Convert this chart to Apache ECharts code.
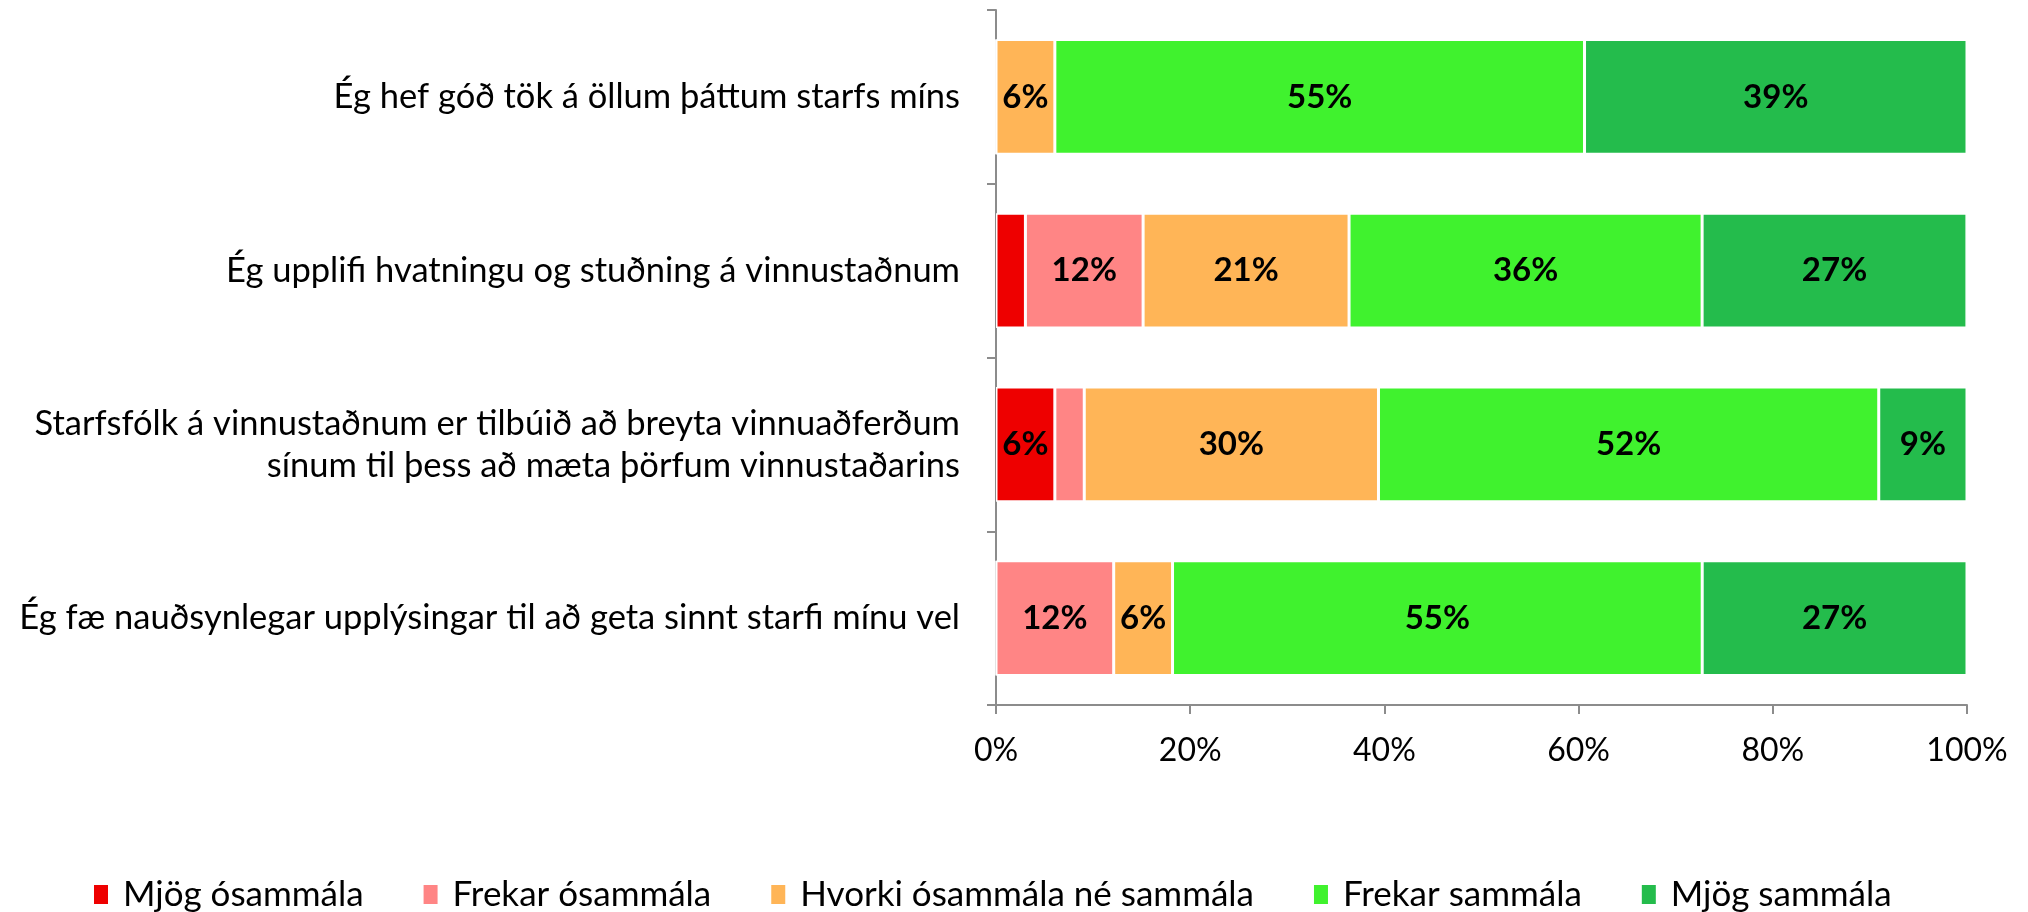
<!DOCTYPE html>
<html>
<head>
<meta charset="utf-8">
<script src="https://cdn.jsdelivr.net/npm/echarts@6/dist/echarts.min.js"></script>
<style>html,body{margin:0;padding:0;background:#fff}#c{width:2028px;height:912px}</style>
</head>
<body>
<div id="c"></div>
<script>
const categories = [
  "Ég hef góð tök á öllum þáttum starfs míns",
  "Ég upplifi hvatningu og stuðning á vinnustaðnum",
  "Starfsfólk á vinnustaðnum er tilbúið að breyta vinnuaðferðum\nsínum til þess að mæta þörfum vinnustaðarins",
  "Ég fæ nauðsynlegar upplýsingar til að geta sinnt starfi mínu vel"
];
const seriesNames = ["Mjög ósammála", "Frekar ósammála", "Hvorki ósammála né sammála", "Frekar sammála", "Mjög sammála"];
const mjogOsammala   = [0,     3.03,  6.06,  0];
const frekarOsammala = [0,     12.12, 3.03,  12.12];
const hvorki         = [6.06,  21.21, 30.30, 6.06];
const frekarSammala  = [54.55, 36.36, 51.52, 54.55];
const mjogSammala    = [39.39, 27.27, 9.09,  27.27];
const xTicks = [0, 20, 40, 60, 80, 100];

const colors = ["#EE0000", "#FF8585", "#FFB557", "#40F22E", "#24BC4C"];
const allData = [mjogOsammala, frekarOsammala, hvorki, frekarSammala, mjogSammala];
const FONT = "Lato";

const chart = echarts.init(document.getElementById('c'), null, {renderer: 'canvas'});
chart.setOption({
  animation: false,
  backgroundColor: '#fff',
  textStyle: {fontFamily: FONT},
  grid: {left: 996, right: 61, top: 10, bottom: 207, containLabel: false},
  legend: {
    left: 87, top: 872, itemGap: 58, itemWidth: 16, itemHeight: 21,
    icon: 'rect',
    textStyle: {fontFamily: FONT, fontSize: 35, color: '#000', padding: [0, 0, 0, 9]},
    data: seriesNames
  },
  xAxis: {
    type: 'value', min: xTicks[0], max: xTicks[xTicks.length - 1], interval: 20,
    axisLine: {show: true, lineStyle: {color: '#8c8c8c', width: 2}},
    axisTick: {show: true, length: 9, lineStyle: {color: '#8c8c8c', width: 2}},
    splitLine: {show: false},
    axisLabel: {formatter: '{value}%', fontFamily: FONT, fontSize: 32, color: '#000', margin: 30}
  },
  yAxis: {
    type: 'category', inverse: true, data: categories,
    axisLine: {show: true, lineStyle: {color: '#8c8c8c', width: 2}},
    axisTick: {show: true, length: 9, lineStyle: {color: '#8c8c8c', width: 2}},
    axisLabel: {fontFamily: FONT, fontSize: 34.5, color: '#000', margin: 36, align: 'right', lineHeight: 42}
  },
  series: seriesNames.map((name, i) => ({
    name: name, type: 'bar', stack: 'total', barCategoryGap: '34%',
    data: allData[i],
    itemStyle: {color: colors[i], borderColor: '#fff', borderWidth: 1.5},
    label: {
      show: true, position: 'inside', color: '#000', fontFamily: FONT,
      fontWeight: 'bold', fontSize: 33,
      formatter: p => p.value >= 4 ? Math.round(p.value) + '%' : ''
    }
  }))
});
</script>
</body>
</html>
